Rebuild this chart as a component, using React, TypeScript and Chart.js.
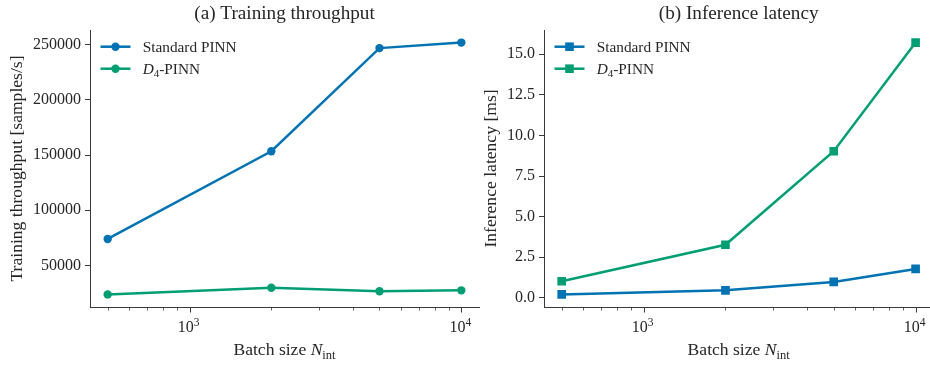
import React, { useEffect, useRef } from 'react';
import { Chart, registerables } from 'chart.js';

Chart.register(...registerables);

// ---------------- data ----------------
const batchSizes = [500, 2000, 5000, 10000];
const throughputStandard = [74000, 153500, 247000, 252000];
const throughputD4 = [23700, 29800, 26500, 27400];
const latencyStandard = [0.21, 0.46, 0.98, 1.78];
const latencyD4 = [1.02, 3.27, 9.03, 15.72];

const throughputTicks = [50000, 100000, 150000, 200000, 250000];
const latencyTicks = [0, 2.5, 5, 7.5, 10, 12.5, 15];
const xMajorTicks = [1000, 10000];
const xMajorExponents = ['3', '4'];
const xMinorTicks = [500, 600, 700, 800, 900, 2000, 3000, 4000, 5000, 6000, 7000, 8000, 9000];

const seriesStandard = 'Standard PINN';
const seriesD4Base = 'D';
const seriesD4Sub = '4';
const seriesD4Rest = '-PINN';

const titleA = '(a) Training throughput';
const titleB = '(b) Inference latency';
const yLabelA = 'Training throughput [samples/s]';
const yLabelB = 'Inference latency [ms]';

const BLUE = '#0173b2';
const GREEN = '#029e73';
const TEXT = '#262626';
const SPINE = '#3a3a3a';
const FONT = '"Liberation Serif", "Times New Roman", "DejaVu Serif", serif';

type Seg = { t: string; size: number; italic?: boolean; dy?: number };

function fontOf(s: Seg) {
  return `${s.italic ? 'italic ' : ''}${s.size}px ${FONT}`;
}

function drawRich(ctx: CanvasRenderingContext2D, segs: Seg[], x: number, y: number, align: 'left' | 'center') {
  ctx.save();
  ctx.textBaseline = 'alphabetic';
  ctx.textAlign = 'left';
  let total = 0;
  const widths = segs.map((s) => {
    ctx.font = fontOf(s);
    const w = ctx.measureText(s.t).width;
    total += w;
    return w;
  });
  let cx = align === 'center' ? x - total / 2 : x;
  segs.forEach((s, i) => {
    ctx.font = fontOf(s);
    ctx.fillText(s.t, cx, y + (s.dy || 0));
    cx += widths[i];
  });
  ctx.restore();
}

function padRange(vals: number[]) {
  const lo = Math.min(...vals);
  const hi = Math.max(...vals);
  const m = (hi - lo) * 0.05;
  return [lo - m, hi + m];
}

function padLogRange(vals: number[]) {
  const lo = Math.log10(Math.min(...vals));
  const hi = Math.log10(Math.max(...vals));
  const m = (hi - lo) * 0.05;
  return [Math.pow(10, lo - m), Math.pow(10, hi + m)];
}

type PanelCfg = {
  left: number;
  width: number;
  yWidth: number;
  targetRight: number;
  title: string;
  yLabel: string;
  standard: number[];
  d4: number[];
  yTicks: number[];
  fmt: (v: number) => string;
  marker: 'circle' | 'rect';
};

const H = 366;
const TOP = 30;
const BOTTOM = 307;

function makeOverlay(cfg: PanelCfg) {
  return {
    id: 'overlay' + cfg.title,
    afterDraw(chart: any) {
      const ctx: CanvasRenderingContext2D = chart.ctx;
      const area = chart.chartArea;
      const xs = chart.scales.x;
      const cxMid = (area.left + area.right) / 2;
      ctx.save();
      ctx.fillStyle = TEXT;

      // title
      drawRich(ctx, [{ t: cfg.title, size: 19.2 }], cxMid, 18.5, 'center');

      // x tick marks
      ctx.strokeStyle = SPINE;
      ctx.lineWidth = 1;
      xMajorTicks.forEach((v) => {
        const px = Math.round(xs.getPixelForValue(v)) + 0.5;
        ctx.beginPath();
        ctx.moveTo(px, area.bottom);
        ctx.lineTo(px, area.bottom + 5.5);
        ctx.stroke();
      });
      ctx.lineWidth = 0.8;
      xMinorTicks.forEach((v) => {
        const px = Math.round(xs.getPixelForValue(v)) + 0.5;
        ctx.beginPath();
        ctx.moveTo(px, area.bottom);
        ctx.lineTo(px, area.bottom + 3.5);
        ctx.stroke();
      });

      // x tick labels 10^n
      xMajorTicks.forEach((v, i) => {
        const px = xs.getPixelForValue(v);
        drawRich(
          ctx,
          [
            { t: '10', size: 16 },
            { t: xMajorExponents[i], size: 11.5, dy: -6 },
          ],
          px - 1,
          332,
          'center'
        );
      });

      // x label
      drawRich(
        ctx,
        [
          { t: 'Batch size ', size: 17.6 },
          { t: 'N', size: 17.6, italic: true },
          { t: 'int', size: 12.5, dy: 3.5 },
        ],
        cxMid,
        355,
        'center'
      );

      // y label
      ctx.font = `16px ${FONT}`;
      let maxW = 0;
      cfg.yTicks.forEach((v) => {
        maxW = Math.max(maxW, ctx.measureText(cfg.fmt(v)).width);
      });
      const yBase = area.left - 5 - 4 - maxW - 11;
      ctx.save();
      ctx.translate(yBase, (area.top + area.bottom) / 2);
      ctx.rotate(-Math.PI / 2);
      drawRich(ctx, [{ t: cfg.yLabel, size: 17.6 }], 0, 0, 'center');
      ctx.restore();

      // legend
      const rows = [
        { color: BLUE, y: 46.7, segs: [{ t: seriesStandard, size: 15.3 }] as Seg[] },
        {
          color: GREEN,
          y: 68.7,
          segs: [
            { t: seriesD4Base, size: 15.3, italic: true },
            { t: seriesD4Sub, size: 11, dy: 3 },
            { t: seriesD4Rest, size: 15.3 },
          ] as Seg[],
        },
      ];
      rows.forEach((r) => {
        const x0 = area.left + 10.5;
        const x1 = area.left + 40.5;
        ctx.strokeStyle = r.color;
        ctx.fillStyle = r.color;
        ctx.lineWidth = 2.5;
        ctx.beginPath();
        ctx.moveTo(x0, r.y);
        ctx.lineTo(x1, r.y);
        ctx.stroke();
        const mx = (x0 + x1) / 2;
        if (cfg.marker === 'circle') {
          ctx.beginPath();
          ctx.arc(mx, r.y, 4.2, 0, Math.PI * 2);
          ctx.fill();
        } else {
          ctx.fillRect(mx - 4.3, r.y - 4.3, 8.6, 8.6);
        }
        ctx.fillStyle = TEXT;
        drawRich(ctx, r.segs, area.left + 52.7, r.y + 5.5, 'left');
      });
      ctx.restore();
    },
  };
}

function Panel({ cfg }: { cfg: PanelCfg }) {
  const ref = useRef<HTMLCanvasElement>(null);
  useEffect(() => {
    const [xMin, xMax] = padLogRange(batchSizes);
    const [yMin, yMax] = padRange([...cfg.standard, ...cfg.d4]);
    const pointR = cfg.marker === 'circle' ? 4.2 : 6.1;
    const mk = (vals: number[], color: string, label: string) => ({
      label,
      data: batchSizes.map((x, i) => ({ x, y: vals[i] })),
      borderColor: color,
      backgroundColor: color,
      borderWidth: 2.5,
      pointStyle: cfg.marker,
      pointRadius: pointR,
      pointBorderWidth: 0,
      pointBackgroundColor: color,
      pointBorderColor: color,
      tension: 0,
    });
    const padRight = cfg.width - cfg.targetRight;
    const chart = new Chart(ref.current!, {
      type: 'line',
      data: {
        datasets: [mk(cfg.standard, BLUE, seriesStandard), mk(cfg.d4, GREEN, 'D4-PINN')],
      },
      options: {
        responsive: false,
        animation: false,
        devicePixelRatio: 1,
        layout: { padding: { top: TOP, left: 0, right: padRight, bottom: 0 } },
        plugins: { legend: { display: false }, tooltip: { enabled: false }, title: { display: false } },
        scales: {
          x: {
            type: 'logarithmic',
            min: xMin,
            max: xMax,
            ticks: { display: false },
            grid: { display: false },
            border: { display: true, color: SPINE, width: 1 },
            afterFit: (s: any) => {
              s.height = H - BOTTOM;
            },
          },
          y: {
            type: 'linear',
            min: yMin,
            max: yMax,
            afterBuildTicks: (s: any) => {
              s.ticks = cfg.yTicks.map((v) => ({ value: v }));
            },
            ticks: {
              padding: 4,
              color: TEXT,
              font: { family: FONT, size: 16 },
              callback: (v: any) => cfg.fmt(Number(v)),
            },
            grid: {
              display: true,
              drawOnChartArea: false,
              drawTicks: true,
              tickLength: 5,
              tickColor: SPINE,
              tickWidth: 1,
            },
            border: { display: true, color: SPINE, width: 1 },
            afterFit: (s: any) => {
              s.width = cfg.yWidth;
            },
          },
        },
      } as any,
      plugins: [makeOverlay(cfg)],
    });
    // correct any extra right inset added by the layout so the plot area ends where intended
    const diff = cfg.targetRight - chart.chartArea.right;
    if (Math.abs(diff) > 0.2) {
      (chart.options as any).layout.padding.right = padRight - diff;
      chart.update();
    }
    return () => chart.destroy();
  }, []);
  return (
    <canvas
      ref={ref}
      width={cfg.width}
      height={H}
      style={{ position: 'absolute', left: cfg.left, top: 0, width: cfg.width, height: H }}
    />
  );
}

const panelA: PanelCfg = {
  left: 0,
  width: 485,
  yWidth: 90,
  targetRight: 479,
  title: titleA,
  yLabel: yLabelA,
  standard: throughputStandard,
  d4: throughputD4,
  yTicks: throughputTicks,
  fmt: (v) => String(Math.round(v)),
  marker: 'circle',
};

const panelB: PanelCfg = {
  left: 465,
  width: 475,
  yWidth: 79,
  targetRight: 468.3,
  title: titleB,
  yLabel: yLabelB,
  standard: latencyStandard,
  d4: latencyD4,
  yTicks: latencyTicks,
  fmt: (v) => v.toFixed(1),
  marker: 'rect',
};

export default function App() {
  return (
    <div
      style={{
        position: 'absolute',
        left: 0,
        top: 0,
        width: 930,
        height: H,
        overflow: 'hidden',
        background: '#fff',
      }}
    >
      <Panel cfg={panelA} />
      <Panel cfg={panelB} />
    </div>
  );
}
